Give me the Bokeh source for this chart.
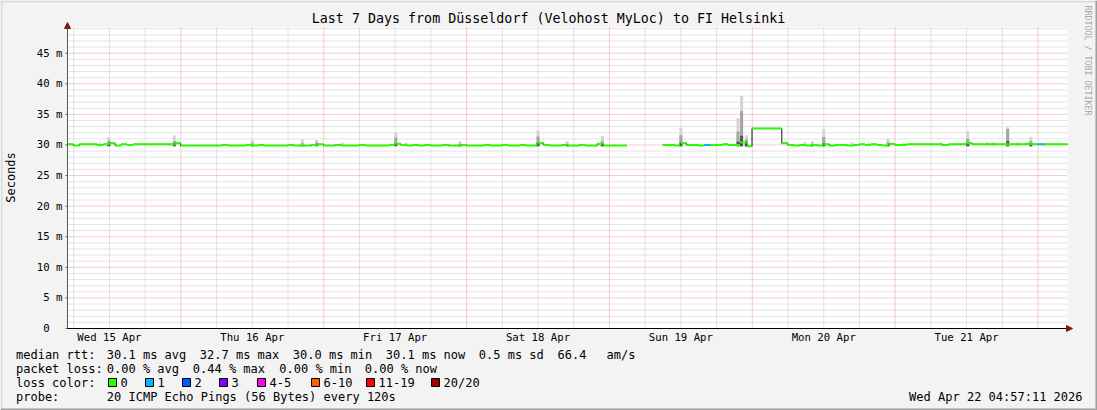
import math
from bokeh.plotting import figure
from bokeh.models import (FixedTicker, Label, BoxAnnotation, Arrow, NormalHead,
                          ColumnDataSource, Range1d)
from bokeh.core.properties import value
from bokeh.embed import file_html
from bokeh.resources import INLINE

nan = float("nan")

# ---------------- data ----------------
title_text = "Last 7 Days from Düsseldorf (Velohost MyLoc) to FI Helsinki"
start_h = 4 + 57 / 60 + 11 / 3600          # Wed 15 Apr 04:57:11 (hours since 15 Apr 00:00)
span_h = 168                                # 7 days
day_labels = ["Wed 15 Apr", "Thu 16 Apr", "Fri 17 Apr", "Sat 18 Apr",
              "Sun 19 Apr", "Mon 20 Apr", "Tue 21 Apr"]
day_label_hours = [12, 36, 60, 84, 108, 132, 156]
midnight_hours = [24, 48, 72, 96, 120, 144, 168]
y_ticks = [0, 5, 10, 15, 20, 25, 30, 35, 40, 45]
y_tick_labels = ["0\u00a0\u00a0", "5 m", "10 m", "15 m", "20 m", "25 m",
                 "30 m", "35 m", "40 m", "45 m"]
y_max = 49.2

# hourly median rtt (ms), one value per hour starting at start_h
median_d0 = [30.1, 29.9, 30.1, 30.1, 30.1, 30.0, 30.1, 30.3, 29.9, 30.1, 30.0, 30.1,
             30.1, 30.1, 30.1, 30.1, 30.1, 30.1, 30.3, 29.9, 29.9, 29.9, 29.9, 29.9]
median_d1 = [29.9, 29.9, 30.0, 29.9, 29.9, 29.9, 30.0, 29.9, 30.0, 29.9, 29.9, 29.9,
             29.9, 30.0, 29.9, 29.9, 29.9, 30.0, 30.1, 29.9, 29.9, 30.0, 29.9, 29.9]
median_d2 = [29.9, 30.0, 29.9, 29.9, 29.9, 29.9, 30.0, 30.2, 30.0, 29.9, 30.0, 29.9,
             30.0, 29.9, 29.9, 30.0, 29.9, 29.9, 30.0, 29.9, 29.9, 29.9, 30.0, 29.9]
median_d3 = [29.9, 30.0, 29.9, 29.9, 30.0, 29.9, 29.9, 30.3, 30.0, 29.9, 29.9, 30.0,
             29.9, 29.9, 30.0, 29.9, 29.9, 30.2, 29.9, 29.9, 29.9, 29.9, nan, nan]
median_d4 = [nan, nan, nan, nan, 30.0, 30.0, 29.9, 30.3, 30.0, 30.0, 29.9, 30.0,
             30.0, 30.0, 30.1, 30.0, 30.0, 30.4, 29.8, 32.7, 32.7, 32.7, 32.7, 32.7]
median_d5 = [30.3, 30.0, 29.9, 30.0, 29.9, 30.0, 29.9, 30.1, 29.9, 30.0, 30.0, 29.9,
             30.0, 30.1, 30.0, 30.1, 30.0, 29.9, 30.2, 30.0, 30.0, 30.1, 30.1, 30.1]
median_d6 = [30.1, 30.1, 30.1, 30.0, 30.1, 30.1, 30.1, 30.3, 30.1, 30.1, 30.1, 30.1,
             30.1, 30.1, 30.1, 30.1, 30.1, 30.2, 30.1, 30.1, 30.1, 30.1, 30.1, 30.1]
median_ms = median_d0 + median_d1 + median_d2 + median_d3 + median_d4 + median_d5 + median_d6

loss_hour_index = [107, 163]
loss_count = [1, 1]

# smoke (ping spread) spikes: position (hours since 15 Apr 00:00), top and core top (ms)
smoke_h = [11.9, 22.9, 36.0, 44.4, 46.8, 60.1, 70.9, 84.0, 88.9, 94.8,
           108.0, 117.6, 118.2, 119.0, 130.1, 132.0, 142.8, 156.2, 162.9, 166.8]
smoke_top = [31.3, 31.6, 30.8, 30.9, 30.8, 32.1, 30.6, 32.4, 30.6, 31.5,
             32.8, 34.4, 38.0, 31.6, 30.6, 32.6, 31.0, 32.3, 32.9, 31.3]
smoke_core = [30.7, 30.6, 30.3, 30.3, 30.4, 31.2, 30.2, 31.4, 30.2, 30.6,
              31.6, 32.2, 35.5, 30.9, 30.2, 31.3, 30.4, 31.0, 32.6, 30.6]
smoke_low = 29.8
haze_h = [10.4, 51.1, 61.8, 128.8, 136.8, 139.6, 145.5, 151.7, 154.5, 159.5, 160.5, 164.6, 169.0]
haze_top = [30.4, 30.4, 30.4, 30.5, 30.5, 30.4, 30.4, 30.4, 30.3, 30.5, 30.5, 30.4, 30.3]

loss_labels = ["0", "1", "2", "3", "4-5", "6-10", "11-19", "20/20"]
loss_colors = ["#26ff00", "#00b8ff", "#0059ff", "#7e00ff", "#ff00ee", "#ff5e00", "#ff0000", "#a10000"]

rtt_stats = ["30.1 ms avg", "32.7 ms max", "30.0 ms min", "30.1 ms now", "0.5 ms sd", "66.4", "am/s"]
loss_stats = ["0.00 % avg", "0.44 % max", "0.00 % min", "0.00 % now"]
probe_text = "20 ICMP Echo Pings (56 Bytes) every 120s"
stamp_text = "Wed Apr 22 04:57:11 2026"
credit_text = "RRDTOOL / TOBI OETIKER"

# ---------------- layout (page pixels) ----------------
W, H = 1097, 410
PX_L, PX_R, PX_T, PX_B = 67, 1067, 27, 328      # plot area in the image
kx = (PX_R - PX_L) / span_h                     # px per hour
ky = (PX_B - PX_T) / y_max                      # px per ms
x_lo, x_hi = start_h, start_h + span_h

FONT = "DejaVu Sans Mono"
p = figure(width=W, height=H,
           x_range=Range1d(start_h - PX_L / kx, start_h + (W - PX_L) / kx),
           y_range=Range1d(-(H - PX_B) / ky, PX_B / ky),
           output_backend="svg", toolbar_location=None, title=None,
           x_axis_location=None, y_axis_location=None,
           min_border=0, min_border_left=0, min_border_right=0,
           min_border_top=0, min_border_bottom=0,
           background_fill_color="#f3f3f3", border_fill_color="#f3f3f3",
           outline_line_color=None)
p.grid.visible = False

# image frame (light top/left, dark bottom/right)
def box(l, r, t, b, color):
    p.add_layout(BoxAnnotation(left=l, right=r, top=H - t, bottom=H - b,
                               left_units="screen", right_units="screen",
                               top_units="screen", bottom_units="screen",
                               fill_color=color, fill_alpha=1.0, line_color=None))
box(0, W, 0, 2, "#dcdcdc")
box(0, 2, 0, H, "#dcdcdc")
box(W - 2, W, 0, H, "#9e9e9e")
box(0, W, H - 2, H, "#9e9e9e")

# white plot canvas
p.quad(left=[x_lo], right=[x_hi], bottom=[0], top=[y_max], fill_color="white", line_color=None)

# grid
six_h = [h for h in range(6, 174, 6) if h % 24 != 0 and x_lo < h < x_hi]
minor_y = [v for v in range(1, 50) if v % 5 != 0 and v <= y_max]
p.segment(x0=six_h, y0=0, x1=six_h, y1=y_max, line_color="#c8c8c8", line_dash="1 1", line_width=1)
p.segment(x0=x_lo, y0=minor_y, x1=x_hi, y1=minor_y, line_color="#c8c8c8", line_dash="1 1", line_width=1)
p.segment(x0=midnight_hours, y0=0, x1=midnight_hours, y1=y_max, line_color="#ee9a9a", line_dash="1 1", line_width=1)
p.segment(x0=x_lo, y0=y_ticks[1:], x1=x_hi, y1=y_ticks[1:], line_color="#ee9a9a", line_dash="1 1", line_width=1)

# ---------------- smoke ----------------
hw = 0.25
p.quad(left=[h - 0.3 for h in haze_h], right=[h + 0.3 for h in haze_h],
       bottom=smoke_low, top=haze_top, fill_color="#dcdcdc", line_color=None)
p.quad(left=[h - hw for h in smoke_h], right=[h + hw for h in smoke_h],
       bottom=smoke_low, top=smoke_top, fill_color="#d4d4d4", line_color=None)
p.quad(left=[h - hw for h in smoke_h], right=[h + hw for h in smoke_h],
       bottom=smoke_low, top=smoke_core, fill_color="#a4a4a4", line_color=None)
dark_top = [smoke_low + (c - smoke_low) * 0.3 for c in smoke_core]
p.quad(left=[h - hw for h in smoke_h], right=[h + hw for h in smoke_h],
       bottom=smoke_low, top=dark_top, fill_color="#555555", line_color=None)

# ---------------- median line ----------------
hours = [start_h + i for i in range(len(median_ms))]
p.step(x=hours + [x_hi], y=median_ms + [median_ms[-1]], mode="after",
       line_color="#1a1a1a", line_width=1)

seg_colors = []
for i in range(len(median_ms)):
    c = loss_colors[0]
    if i in loss_hour_index:
        n = loss_count[loss_hour_index.index(i)]
        c = loss_colors[n] if n <= 3 else loss_colors[4]
    seg_colors.append(c)
seg = ColumnDataSource(dict(x0=hours, x1=[h + 1 for h in hours], y=median_ms, c=seg_colors))
p.segment(x0="x0", y0="y", x1="x1", y1="y", line_color="c", line_width=2, source=seg)

# ---------------- axes ----------------
p.segment(x0=x_lo - 2 / kx, y0=y_ticks, x1=x_lo, y1=y_ticks, line_color="#5a5a5a", line_width=1)
p.add_layout(Arrow(end=NormalHead(size=6, fill_color="#8b1414", line_color="#8b1414"),
                   x_start=x_lo, y_start=0, x_end=x_lo, y_end=y_max + 5 / ky,
                   line_color="#5a5a5a", line_width=1))
p.add_layout(Arrow(end=NormalHead(size=6, fill_color="#8b1414", line_color="#8b1414"),
                   x_start=x_lo, y_start=0, x_end=x_hi + 5 / kx, y_end=0,
                   line_color="#000000", line_width=1))

p.text(x=x_lo, y=y_ticks, text=y_tick_labels, x_offset=-5, text_align="right",
       text_baseline="middle", text_font=value(FONT), text_font_size="10.67px",
       text_color="#000000")
p.text(x=day_label_hours, y=0, text=day_labels, y_offset=9, text_align="center",
       text_baseline="middle", text_font=value(FONT), text_font_size="10.67px",
       text_color="#000000")

# ---------------- texts ----------------
def lab(text, px, py, size="12px", align="left", angle=0.0, color="#000000"):
    p.add_layout(Label(x=px, y=H - py, x_units="screen", y_units="screen",
                       text=text, text_font=FONT, text_font_size=size,
                       text_align=align, text_baseline="middle", angle=angle,
                       text_color=color))

lab(title_text, 548, 18, size="13.33px", align="center")
lab("Seconds", 10, 177, size="12px", align="center", angle=math.pi / 2)
lab(credit_text, 1087, 60, size="8.3px", align="center", angle=-math.pi / 2, color="#a8a8a8")

col1 = 15.5
lab("median rtt:", col1, 354)
for t, x in zip(rtt_stats, [106.3, 199.3, 292.3, 385.3, 478.3, 557.0, 606.0]):
    lab(t, x, 354)
lab("packet loss:", col1, 368)
for t, x in zip(loss_stats, [106.3, 192.3, 278.8, 364.3]):
    lab(t, x, 368)
lab("loss color:", col1, 382)
for t, c, bx in zip(loss_labels, loss_colors, [108, 145, 182, 219, 257, 311, 366, 431]):
    p.add_layout(BoxAnnotation(left=bx, right=bx + 8, top=H - 378, bottom=H - 386,
                               left_units="screen", right_units="screen",
                               top_units="screen", bottom_units="screen",
                               fill_color=c, fill_alpha=1.0, line_color="#000000",
                               line_alpha=1.0, line_width=1))
    lab(t, bx + 12, 382)
lab("probe:", col1, 396)
lab(probe_text, 106.3, 396)
lab(stamp_text, 1082, 396, align="right")

open("out.html", "w").write(file_html(p, INLINE))
